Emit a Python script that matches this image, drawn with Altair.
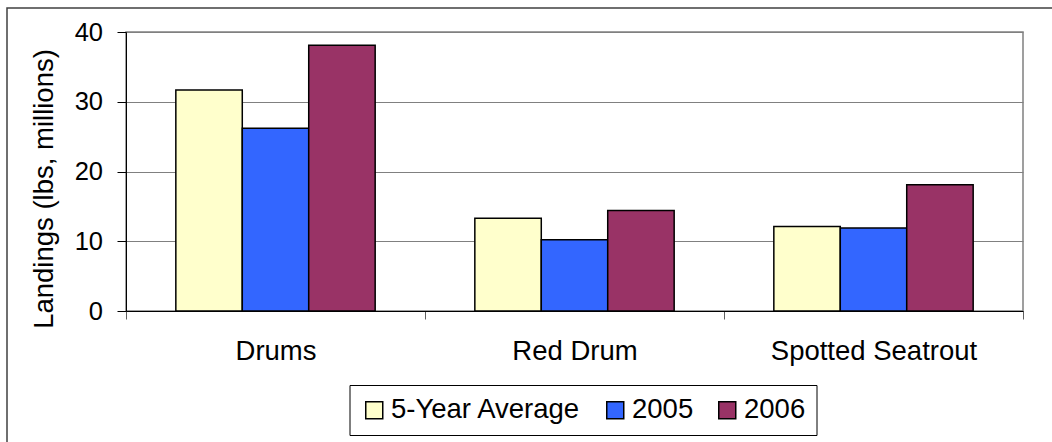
import altair as alt
import pandas as pd

# Recreational landings by species group (millions of pounds)
species = ["Drums", "Red Drum", "Spotted Seatrout"]
series = ["5-Year Average", "2005", "2006"]
avg_5yr = [31.7, 13.3, 12.1]
landings_2005 = [26.2, 10.2, 11.9]
landings_2006 = [38.1, 14.4, 18.1]
series_colors = ["#FFFFCC", "#3366FF", "#993366"]
y_ticks = [0, 10, 20, 30, 40]

rows = []
for i, sp in enumerate(species):
    for name, vals in zip(series, [avg_5yr, landings_2005, landings_2006]):
        rows.append({"Species": sp, "Series": name, "Landings": vals[i]})
df = pd.DataFrame(rows)

FONT = "Liberation Sans"
W, H = 897, 279
PAD_L, PAD_T = 126, 32

# outer frame around the whole figure
frame = alt.Chart(pd.DataFrame({"k": [0]})).mark_rect(
    fillOpacity=0, stroke="#404040", strokeWidth=1.5
).encode(
    x=alt.value(7 - PAD_L), x2=alt.value(1100 - PAD_L),
    y=alt.value(8 - PAD_T), y2=alt.value(480 - PAD_T),
)

bars = alt.Chart(df).mark_bar(stroke="black", strokeWidth=1.5).encode(
    x=alt.X(
        "Species:N", sort=species,
        scale=alt.Scale(paddingInner=0, paddingOuter=0),
        axis=alt.Axis(
            title=None, labelAngle=0, tickBand="extent", tickSize=8,
            tickColor="#606060", domainColor="#000000", grid=False,
            labelFont=FONT, labelFontSize=27.5, labelColor="black",
            labelPadding=18, labelLimit=400,
        ),
    ),
    xOffset=alt.XOffset(
        "Series:N", sort=series,
        scale=alt.Scale(paddingInner=0, paddingOuter=0.75),
    ),
    y=alt.Y(
        "Landings:Q",
        scale=alt.Scale(domain=[0, 40], nice=False),
        axis=alt.Axis(
            values=y_ticks, title="Landings (lbs, millions)",
            tickSize=9, tickColor="#000000", domainColor="#000000",
            gridColor="#808080", gridWidth=1,
            labelFont=FONT, labelFontSize=25.5, labelColor="black",
            labelPadding=14.5,
            titleFont=FONT, titleFontSize=27.5, titleFontWeight="normal",
            titleColor="black", titleAngle=270, titleAlign="center",
            titleBaseline="alphabetic", titleX=-73.5, titleY=156.5,
            titleLimit=600,
        ),
    ),
    color=alt.Color(
        "Series:N", sort=series,
        scale=alt.Scale(domain=series, range=series_colors),
        legend=alt.Legend(
            title=None, orient="none", legendX=223.5, legendY=353,
            direction="horizontal", strokeColor="black", fillColor="white",
            padding=11, symbolType="square", symbolSize=289,
            symbolStrokeColor="black", symbolStrokeWidth=1.5,
            symbolOpacity=1, labelFont=FONT, labelFontSize=27.5,
            labelColor="black", labelOffset=3, columnPadding=20,
            labelLimit=400,
        ),
    ),
)

chart = alt.layer(frame, bars).properties(
    width=W, height=H,
    autosize=alt.AutoSizeParams(type="none"),
    padding={"left": PAD_L, "top": PAD_T, "right": 1052 - PAD_L - W, "bottom": 442 - PAD_T - H},
).configure_view(stroke="#808080", strokeWidth=1.5)

chart.save("out.html", embed_options={"renderer": "svg", "actions": False})
